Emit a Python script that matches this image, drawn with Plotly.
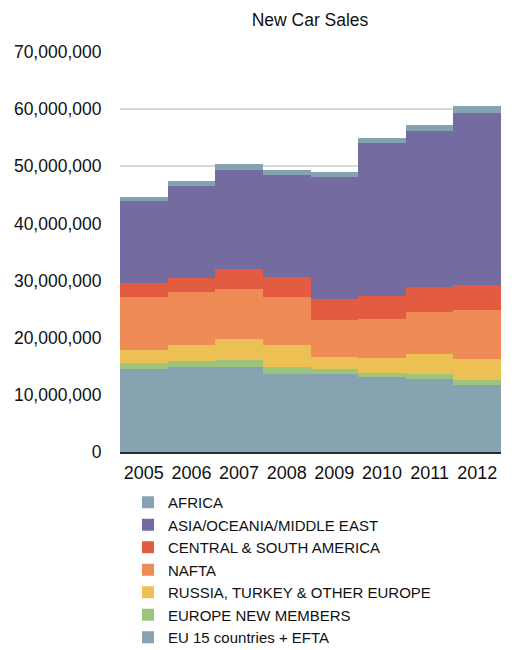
import plotly.graph_objects as go

# New car sales by region, 2005-2012
years = ["2005", "2006", "2007", "2008", "2009", "2010", "2011", "2012"]

eu15_efta = [14500000, 14800000, 14900000, 13600000, 13700000, 13100000, 12800000, 11800000]
europe_new = [1100000, 1100000, 1200000, 1200000, 800000, 800000, 800000, 800000]
russia_turkey = [2300000, 2750000, 3600000, 4000000, 2100000, 2600000, 3500000, 3600000]
nafta = [9200000, 9350000, 8900000, 8300000, 6500000, 6800000, 7400000, 8600000]
central_south_am = [2400000, 2500000, 3400000, 3500000, 3600000, 4000000, 4300000, 4500000]
asia_oceania_me = [14400000, 16000000, 17300000, 17900000, 21400000, 26800000, 27400000, 30100000]
africa = [700000, 1000000, 1050000, 900000, 850000, 900000, 1000000, 1100000]

y_ticks = [0, 10000000, 20000000, 30000000, 40000000, 50000000, 60000000, 70000000]

# bottom of the stack first
series = [
    ("EU 15 countries + EFTA", eu15_efta, "#87a2b0"),
    ("EUROPE NEW MEMBERS", europe_new, "#9cc47c"),
    ("RUSSIA, TURKEY & OTHER EUROPE", russia_turkey, "#ecc052"),
    ("NAFTA", nafta, "#ee8b57"),
    ("CENTRAL & SOUTH AMERICA", central_south_am, "#e35c42"),
    ("ASIA/OCEANIA/MIDDLE EAST", asia_oceania_me, "#746ba0"),
    ("AFRICA", africa, "#87a2b0"),
]

_FONT = "Liberation Sans, Arial, Helvetica, sans-serif"
_W, _H = 515, 650
# plot area in figure pixels (page adds an 8px body margin)
_L, _R, _T, _B = 112, 493, 44, 444

fig = go.Figure()
for name, vals, col in series:
    fig.add_trace(go.Bar(
        x=years, y=vals, name=name,
        marker=dict(color=col, line=dict(width=0)),
    ))

fig.update_layout(
    width=_W, height=_H,
    barmode="stack", bargap=0,
    paper_bgcolor="white", plot_bgcolor="white",
    font=dict(family=_FONT, color="#111111"),
    margin=dict(l=_L, r=_W - _R, t=_T, b=_H - _B, autoexpand=False),
    title=dict(text="New Car Sales", font=dict(size=17.5, color="#111111"),
               x=302 / _W, xanchor="center", y=1 - 12 / _H, yanchor="middle"),
    xaxis=dict(
        type="category",
        showline=True, linecolor="#2b2b2b", linewidth=2,
        showgrid=False, tickfont=dict(size=18),
        ticks="outside", ticklen=3, tickcolor="rgba(0,0,0,0)",
        tickangle=0,
    ),
    yaxis=dict(
        range=[0, 70000000], tickvals=y_ticks, tickformat=",",
        showgrid=True, gridcolor="#d8d8d8", gridwidth=1.5,
        zeroline=False, tickfont=dict(size=17.5),
        ticks="outside", ticklen=14, tickcolor="rgba(0,0,0,0)",
    ),
    legend=dict(
        traceorder="reversed",
        x=(120 - _L) / (_R - _L), xanchor="left",
        y=(_B - 478) / (_B - _T), yanchor="top",
        font=dict(size=15, color="#111111"),
        bgcolor="rgba(0,0,0,0)",
    ),
)

fig.write_html("out.html")
